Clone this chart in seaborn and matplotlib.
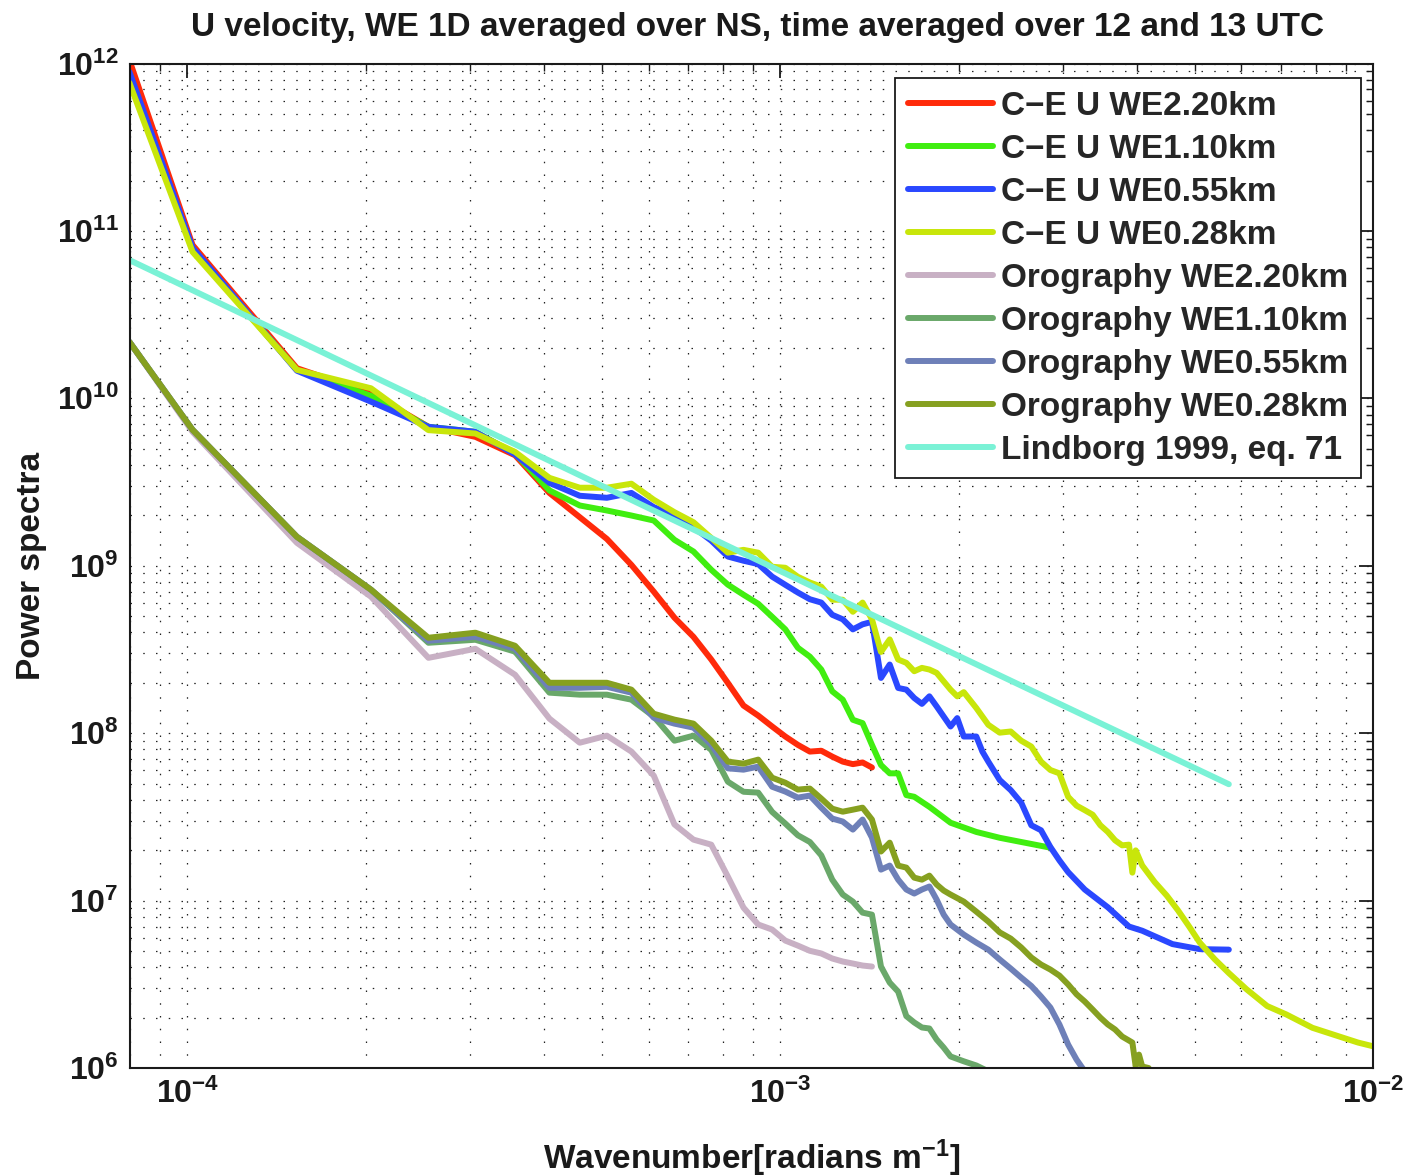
import numpy as np
import pandas as pd
import matplotlib
matplotlib.use("Agg")
import matplotlib.pyplot as plt
import seaborn as sns
from matplotlib.ticker import LogLocator, NullFormatter

# ---------------- data ----------------
DK = 5.1e-5  # spacing of the discrete wavenumbers [rad/m]

TITLE = "U velocity, WE 1D averaged over NS, time averaged over 12 and 13 UTC"
X_LABEL = r"Wavenumber[radians m$^{\mathbf{-1}}$]"
Y_LABEL = "Power spectra"
X_TICKS = [1e-4, 1e-3, 1e-2]
X_TICK_LABELS = [r"$\mathbf{10^{-4}}$", r"$\mathbf{10^{-3}}$", r"$\mathbf{10^{-2}}$"]
Y_TICKS = [1e6, 1e7, 1e8, 1e9, 1e10, 1e11, 1e12]
Y_TICK_LABELS = [r"$\mathbf{10^{%d}}$" % e for e in range(6, 13)]

N_28 = [1.565] + list(range(2, 29))

# C-E U WE2.20km  (wavenumber index, log10 power)
ce220_n = N_28
ce220_lp = [12.02, 10.916, 10.18, 10.03, 9.83, 9.77, 9.66, 9.435, 9.29, 9.16, 9.005,
            8.845, 8.69, 8.575, 8.44, 8.30, 8.165, 8.105, 8.04, 7.98, 7.93, 7.89,
            7.895, 7.86, 7.83, 7.815, 7.825, 7.795]

# C-E U WE1.10km
ce110_n = N_28 + [29, 30, 31, 32, 33, 35, 38, 42, 46, 50, 56]
ce110_lp = [11.91, 10.887, 10.17, 10.015, 9.83, 9.80, 9.67, 9.45, 9.36, 9.33, 9.30,
            9.27, 9.155, 9.085, 8.976, 8.887, 8.827, 8.773, 8.695, 8.62, 8.51, 8.457,
            8.38, 8.25, 8.20, 8.08, 8.06, 7.93,
            7.81, 7.76, 7.76, 7.63, 7.62, 7.56, 7.465, 7.41, 7.375, 7.35, 7.316]

# C-E U WE0.55km
ce055_n = N_28 + [29, 30, 31, 32, 33, 34, 35, 36, 38, 39, 40, 42, 43, 44, 46, 48, 50,
                  52, 54, 56, 58, 60, 64, 70, 76, 80, 90, 100, 112]
ce055_lp = [11.95, 10.90, 10.165, 9.98, 9.83, 9.80, 9.665, 9.495, 9.418, 9.406, 9.435,
            9.35, 9.30, 9.23, 9.15, 9.055, 9.03, 9.01, 8.935, 8.886, 8.84, 8.80,
            8.78, 8.707, 8.68, 8.62, 8.65, 8.665,
            8.33, 8.41, 8.27, 8.26, 8.21, 8.175, 8.22, 8.16, 8.04, 8.09, 7.98, 7.98,
            7.89, 7.83, 7.72, 7.66, 7.585, 7.45, 7.42, 7.32, 7.24, 7.17, 7.066, 6.96,
            6.845, 6.82, 6.74, 6.71, 6.707]

# C-E U WE0.28km
ce028_n = N_28 + [29, 30, 31, 32, 33, 34, 35, 36, 38, 39, 40, 42, 44, 46, 48, 50, 52,
                  54, 56, 58, 60, 62, 64, 66, 68, 70, 72, 74, 76, 77, 78, 80, 84, 88,
                  92, 96, 100, 106, 112, 120, 130, 140, 155, 170, 185, 196]
ce028_lp = [11.885, 10.875, 10.17, 10.06, 9.81, 9.79, 9.68, 9.525, 9.466, 9.466, 9.49,
            9.394, 9.32, 9.26, 9.166, 9.078, 9.095, 9.078, 8.994, 8.988, 8.934, 8.90,
            8.875, 8.797, 8.797, 8.725, 8.78, 8.68,
            8.485, 8.56, 8.44, 8.42, 8.37, 8.39, 8.38, 8.36, 8.26, 8.22, 8.245, 8.15,
            8.05, 8.003, 8.01, 7.955, 7.92, 7.83, 7.78, 7.76, 7.62, 7.567, 7.54, 7.513,
            7.45, 7.41, 7.36, 7.33, 7.334, 7.167, 7.30, 7.21, 7.11, 7.03, 6.94, 6.845,
            6.75, 6.65, 6.567, 6.47, 6.37, 6.32, 6.24, 6.194, 6.152, 6.13]

# Orography WE2.20km
oro220_n = N_28
oro220_lp = [10.337, 9.80, 9.137, 8.815, 8.45, 8.504, 8.349, 8.087, 7.943, 7.985, 7.89,
             7.746, 7.455, 7.364, 7.334, 7.143, 6.958, 6.857, 6.827, 6.761, 6.731, 6.70,
             6.684, 6.654, 6.636, 6.624, 6.612, 6.606]

# Orography WE1.10km
oro110_n = N_28 + list(range(29, 39)) + [40, 42, 44]
oro110_lp = [10.337, 9.812, 9.173, 8.857, 8.54, 8.558, 8.487, 8.242, 8.23, 8.23, 8.20,
             8.099, 7.955, 7.985, 7.90, 7.71, 7.65, 7.645, 7.53, 7.46, 7.39, 7.35,
             7.27, 7.125, 7.036, 6.994, 6.928, 6.916,
             6.606, 6.51, 6.456, 6.31, 6.272, 6.242, 6.236, 6.17, 6.122, 6.069,
             6.04, 6.015, 5.98]

# Orography WE0.55km
oro055_n = N_28 + list(range(29, 39)) + [40, 42, 44, 46, 48, 50, 52, 54, 56, 58, 60, 62, 64]
oro055_lp = [10.337, 9.812, 9.173, 8.857, 8.552, 8.576, 8.504, 8.271, 8.271, 8.277, 8.242,
             8.092, 8.057, 8.033, 7.931, 7.79, 7.782, 7.80, 7.68, 7.651, 7.615, 7.627,
             7.555, 7.49, 7.472, 7.424, 7.484, 7.376,
             7.185, 7.209, 7.125, 7.066, 7.042, 7.066, 7.084, 7.006, 6.916, 6.857,
             6.797, 6.749, 6.707, 6.648, 6.594, 6.54, 6.49, 6.427, 6.361, 6.26, 6.14,
             6.05, 5.98]

# Orography WE0.28km
oro028_n = N_28 + list(range(29, 39)) + [40, 42, 44, 46, 48, 50, 52, 54, 56, 58, 60, 62,
                                         64, 66, 68, 70, 72, 74, 76, 77, 78, 79, 80, 82, 84]
oro028_lp = [10.337, 9.812, 9.173, 8.857, 8.57, 8.60, 8.522, 8.301, 8.301, 8.301, 8.26,
             8.116, 8.081, 8.057, 7.955, 7.83, 7.818, 7.842, 7.734, 7.704, 7.663, 7.669,
             7.609, 7.549, 7.531, 7.543, 7.555, 7.484,
             7.293, 7.346, 7.209, 7.197, 7.137, 7.125, 7.149, 7.096, 7.06, 7.036,
             6.994, 6.934, 6.875, 6.81, 6.773, 6.72, 6.66, 6.618, 6.588, 6.552, 6.499,
             6.44, 6.397, 6.349, 6.301, 6.26, 6.23, 6.188, 6.164, 6.152, 6.009, 6.08,
             6.009, 6.0, 5.93]

# Lindborg 1999, eq. 71
lind_n = [1.565, 24, 112]
lind_lp = [10.826, 8.82, 7.695]

NAMES = ["C\u2212E U WE2.20km", "C\u2212E U WE1.10km", "C\u2212E U WE0.55km",
         "C\u2212E U WE0.28km", "Orography WE2.20km", "Orography WE1.10km",
         "Orography WE0.55km", "Orography WE0.28km", "Lindborg 1999, eq. 71"]
COLORS = ["#ff2a0a", "#40ee10", "#2a48ff", "#c8e60a", "#c8b0c4", "#6aa86a",
          "#6e80b8", "#86a020", "#7af2d6"]

SERIES = [(ce220_n, ce220_lp), (ce110_n, ce110_lp), (ce055_n, ce055_lp),
          (ce028_n, ce028_lp), (oro220_n, oro220_lp), (oro110_n, oro110_lp),
          (oro055_n, oro055_lp), (oro028_n, oro028_lp), (lind_n, lind_lp)]

# ---------------- build table ----------------
frames = []
for name, (n, lp) in zip(NAMES, SERIES):
    assert len(n) == len(lp), name
    frames.append(pd.DataFrame({"k": np.asarray(n, float) * DK,
                                "P": 10.0 ** np.asarray(lp, float),
                                "series": name}))
df = pd.concat(frames, ignore_index=True)

# ---------------- style ----------------
sns.set_theme(style="white")
plt.rcParams["font.family"] = ["Liberation Sans", "DejaVu Sans"]
plt.rcParams["font.weight"] = "bold"
plt.rcParams["mathtext.fontset"] = "custom"
plt.rcParams["mathtext.rm"] = "Liberation Sans:bold"
plt.rcParams["mathtext.bf"] = "Liberation Sans:bold"
plt.rcParams["mathtext.it"] = "Liberation Sans:bold:italic"
plt.rcParams["mathtext.sf"] = "Liberation Sans:bold"

LW = 4.3

fig = plt.figure(figsize=(14.08, 11.76), dpi=100)
ax = fig.add_axes([130 / 1408, 1 - 1068 / 1176, (1373 - 130) / 1408, (1068 - 63.5) / 1176])
ax.set_xscale("log")
ax.set_yscale("log")

sns.lineplot(data=df, x="k", y="P", hue="series", hue_order=NAMES,
             palette=dict(zip(NAMES, COLORS)), linewidth=LW, estimator=None,
             sort=False, ax=ax)

ax.set_xlim(8e-5, 1e-2)
ax.set_ylim(1e6, 1e12)

# grid (MATLAB-like dotted, major + minor)
ax.set_axisbelow(True)
ax.grid(True, which="both", axis="both", color="#222222",
        linestyle=(0, (1.2, 9)), linewidth=0.9)

# ticks
ax.xaxis.set_minor_locator(LogLocator(base=10, subs=np.arange(2, 10), numticks=30))
ax.yaxis.set_minor_locator(LogLocator(base=10, subs=np.arange(2, 10), numticks=30))
ax.xaxis.set_minor_formatter(NullFormatter())
ax.yaxis.set_minor_formatter(NullFormatter())
ax.set_xticks(X_TICKS)
ax.set_xticklabels(X_TICK_LABELS)
ax.set_yticks(Y_TICKS)
ax.set_yticklabels(Y_TICK_LABELS)
ax.tick_params(which="major", direction="in", length=10, width=1.3, top=True,
               right=True, labelsize=23, colors="k", pad=8)
ax.tick_params(which="minor", direction="in", length=5, width=1.0, top=True,
               right=True, colors="k")
ax.tick_params(axis="x", which="major", pad=8)

for s in ax.spines.values():
    s.set_visible(True)
    s.set_color("k")
    s.set_linewidth(1.5)

# labels
ax.set_title(TITLE, fontsize=24, fontweight="bold", pad=20, color="k", x=0.505)
ax.set_xlabel(X_LABEL, fontsize=24, fontweight="bold", color="k")
ax.set_ylabel(Y_LABEL, fontsize=24, fontweight="bold", color="k")
ax.xaxis.set_label_coords(0.5, -0.069)
ax.yaxis.set_label_coords(-0.067, 0.5)

# legend
handles, labels = ax.get_legend_handles_labels()
if ax.get_legend() is not None:
    ax.get_legend().remove()
for h in handles:
    h.set_linewidth(LW)
leg = ax.legend(handles, labels, loc="upper right",
                bbox_to_anchor=(1361 / 1408, 1 - 78 / 1176),
                bbox_transform=fig.transFigure, borderaxespad=0,
                frameon=True, fancybox=False, framealpha=1, edgecolor="k",
                prop={"weight": "bold", "size": 24,
                      "family": ["Liberation Sans", "DejaVu Sans"]},
                handlelength=2.55, handletextpad=0.25, labelspacing=0.36,
                borderpad=0.38)
leg.get_frame().set_linewidth(1.3)

fig.savefig("out.png", dpi=100)
